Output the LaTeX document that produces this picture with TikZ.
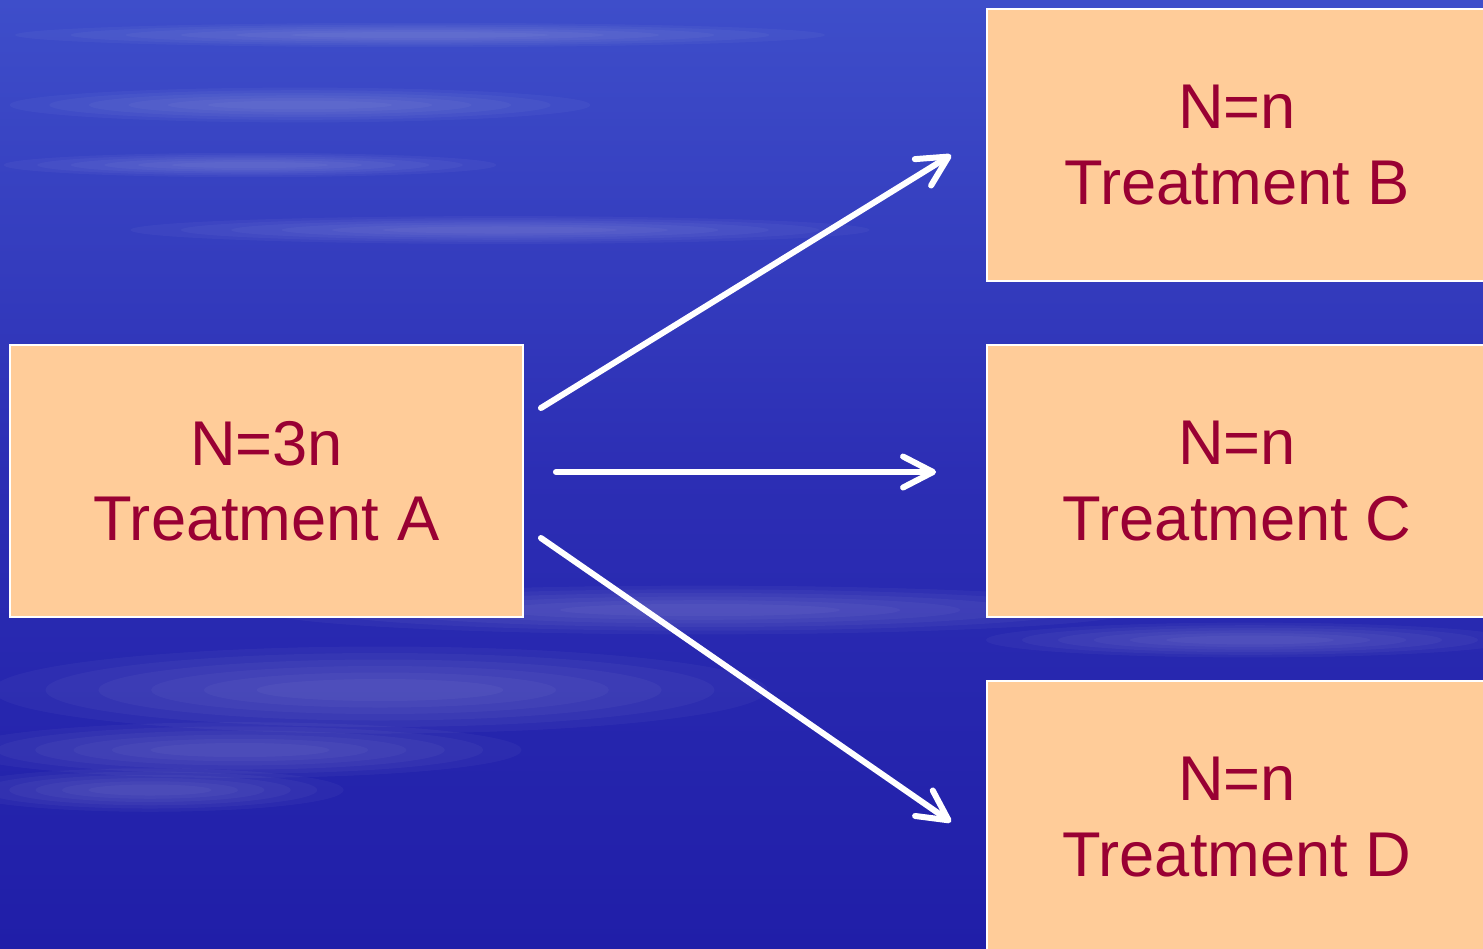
\documentclass[tikz,border=0pt]{standalone}
\usepackage{fontspec}
\setmainfont{Liberation Sans}
\usetikzlibrary{arrows.meta,positioning,calc}
\definecolor{sky}{RGB}{44,46,180}
\definecolor{skytop}{RGB}{62,78,202}
\definecolor{skylow}{RGB}{32,30,168}
\definecolor{peach}{RGB}{255,204,153}
\definecolor{wine}{RGB}{153,0,51}

\begin{document}
\begin{tikzpicture}[x=0.02cm,y=-0.02cm,
  arm/.style={draw=white,line width=0.12cm,line cap=round,line join=round,
    -{Straight Barb[length=0.6cm,width=0.62cm,line cap=round,line join=round]}},
  group/.style={draw=white,line width=0.04cm,fill=peach,text=wine,inner sep=0pt,
    minimum width=10.26cm,minimum height=5.44cm,align=center,
    font=\fontsize{36}{43}\selectfont},
  streak/.style={fill=white,opacity=.035}]
\useasboundingbox (0,0) rectangle (1483,948);
\clip (0,0) rectangle (1483,948);
% sky
\shade[top color=skytop,bottom color=skylow,middle color=sky] (0,0) rectangle (1483,948);
% soft clouds: centre x, centre y, half width, half height
\foreach \cx/\cy/\rx/\ry in {300/105/330/20, 250/165/280/14, 420/35/460/14,
    500/230/420/16, 380/690/440/50, 240/750/320/32, 700/610/500/28,
    1250/640/300/20, 150/790/220/25}
  \foreach \k in {1,...,6}
    \fill[streak] (\cx,\cy) ellipse ({\rx*(1-0.12*\k)} and {\ry*(1-0.13*\k)});
% groups
\node[group] (a) at (266.5,481) {N=3n\\Treatment A};
\node[group,minimum width=10cm] (b) at (1237,145) {N=n\\Treatment B};
\node[group,minimum width=10cm] (c) at (1237,481) {N=n\\Treatment C};
\node[group,minimum width=10cm] (d) at (1237,817) {N=n\\Treatment D};
% split
\draw[arm] ($(a.east)+(17,-73)$) -- ($(b.west)+(-35,10)$);
\draw[arm] ($(a.east)+(32,-9)$) -- ($(c.west)+(-50,-9)$);
\draw[arm] ($(a.east)+(17,57)$) -- ($(d.west)+(-35,5)$);
\end{tikzpicture}
\end{document}
